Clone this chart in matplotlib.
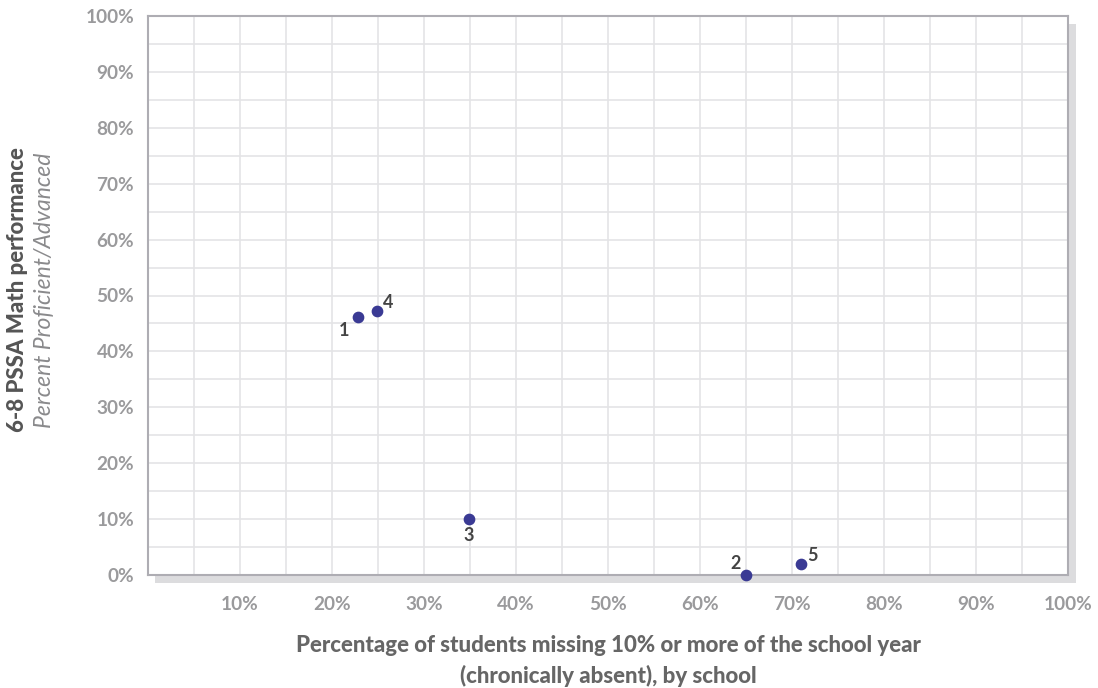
import matplotlib.pyplot as plt
from matplotlib.patches import Rectangle
from matplotlib.ticker import MultipleLocator, FixedLocator

# school data: chronic absence (%) vs. percent proficient/advanced
schools = ["1", "2", "3", "4", "5"]
absent_pct = [22.8, 65.0, 34.9, 24.9, 71.0]
proficient_pct = [46.2, 0.0, 10.0, 47.2, 2.0]
x_ticks = [10, 20, 30, 40, 50, 60, 70, 80, 90, 100]
y_ticks = [0, 10, 20, 30, 40, 50, 60, 70, 80, 90, 100]

# label offsets (points) and alignment per school
label_pos = {
    "1": (-6, -4, "right", "top"),
    "2": (-4, 2, "right", "bottom"),
    "3": (0, -6, "center", "top"),
    "4": (4, 0, "left", "bottom"),
    "5": (4, 0, "left", "bottom"),
}

plt.rcParams["font.family"] = ["Lato", "DejaVu Sans"]

fig = plt.figure(figsize=(10.98, 6.88), dpi=100)
ax = fig.add_axes([148 / 1098, 113 / 688, 920 / 1098, 559 / 688])

# drop shadow behind the plot frame
fig.patches.append(Rectangle((155 / 1098, 105 / 688), 921 / 1098, 559 / 688,
                             transform=fig.transFigure, facecolor="#dcdcde",
                             edgecolor="none", zorder=0))
ax.set_zorder(1)

ax.scatter(absent_pct, proficient_pct, s=55, color="#3a3a94", zorder=3, clip_on=False)
for name, x, y in zip(schools, absent_pct, proficient_pct):
    dx, dy, ha, va = label_pos[name]
    ax.annotate(name, (x, y), xytext=(dx, dy), textcoords="offset points",
                ha=ha, va=va, fontsize=13, fontweight="bold", color="#444444", zorder=4)

ax.set_xlim(0, 100)
ax.set_ylim(0, 100)
ax.xaxis.set_major_locator(FixedLocator(x_ticks))
ax.yaxis.set_major_locator(FixedLocator(y_ticks))
ax.xaxis.set_minor_locator(MultipleLocator(5))
ax.yaxis.set_minor_locator(MultipleLocator(5))
ax.set_xticklabels([f"{t}%" for t in x_ticks])
ax.set_yticklabels([f"{t}%" for t in y_ticks])
ax.grid(which="both", color="#e4e4e6", linewidth=1.2, zorder=0)
ax.set_axisbelow(True)
ax.tick_params(which="both", length=0)
ax.tick_params(axis="x", pad=15, labelsize=13.7, labelcolor="#9a9a9c")
ax.tick_params(axis="y", pad=10, labelsize=13.7, labelcolor="#9a9a9c")
for lab in ax.get_xticklabels() + ax.get_yticklabels():
    lab.set_fontweight("bold")
for side, sp in ax.spines.items():
    sp.set_color("#aeadb3")
    sp.set_linewidth(1.5)

fig.text(608 / 1098, 1 - 645 / 688, "Percentage of students missing 10% or more of the school year",
         ha="center", va="center", fontsize=16, fontweight="black", color="#666666")
fig.text(608 / 1098, 1 - 676 / 688, "(chronically absent), by school",
         ha="center", va="center", fontsize=16, fontweight="black", color="#666666")
fig.text(18 / 1098, 1 - 290 / 688, "6-8 PSSA Math performance", rotation=90,
         ha="center", va="center", fontsize=16, fontweight="black", color="#555555")
fig.text(45 / 1098, 1 - 290 / 688, "Percent Proficient/Advanced", rotation=90,
         ha="center", va="center", fontsize=16.5, style="italic", color="#8a8a8c")

fig.savefig("out.png", dpi=100)
